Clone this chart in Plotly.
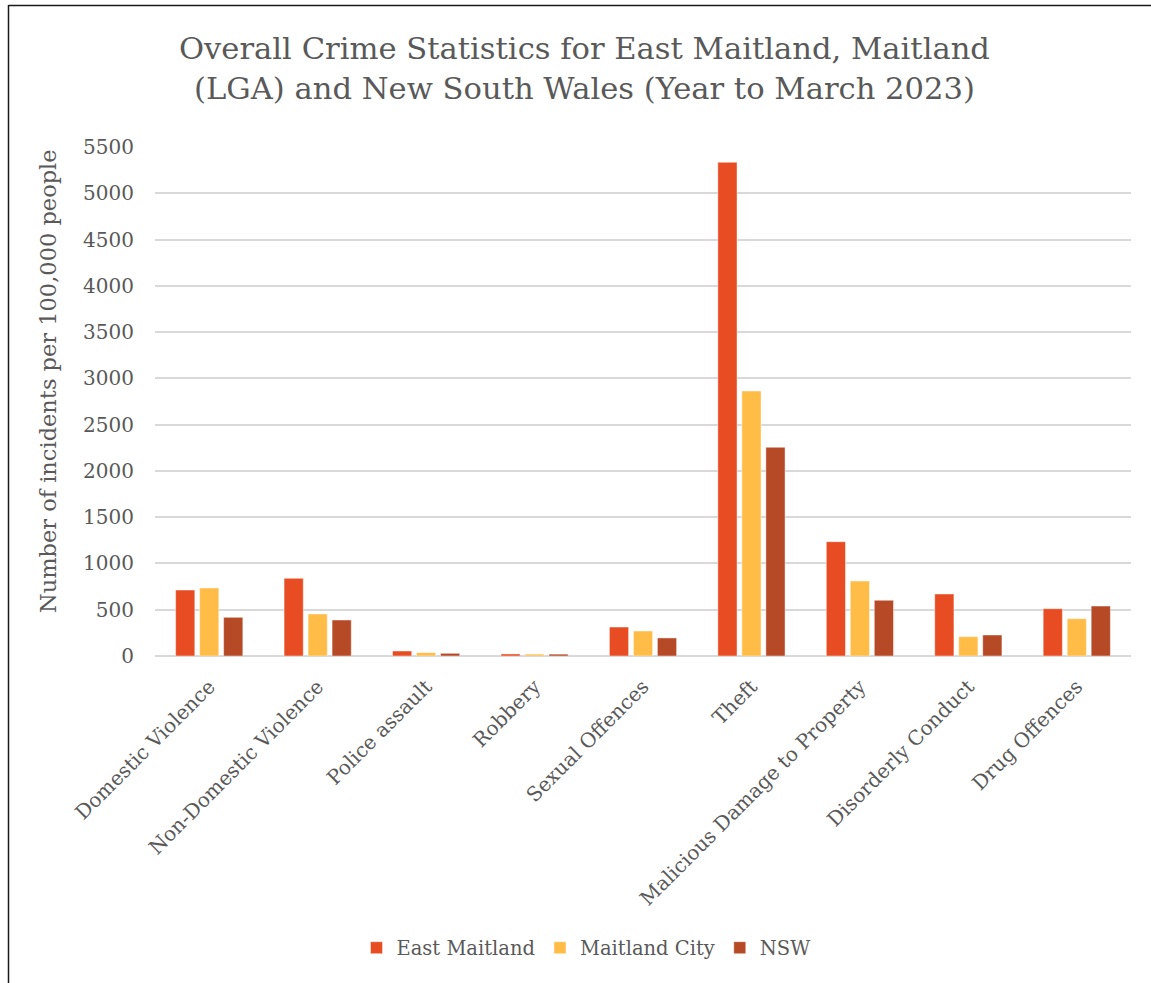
import plotly.graph_objects as go

categories = ["Domestic Violence", "Non-Domestic Violence", "Police assault", "Robbery",
              "Sexual Offences", "Theft", "Malicious Damage to Property",
              "Disorderly Conduct", "Drug Offences"]
east_maitland = [713, 839, 54, 22, 313, 5335, 1235, 670, 511]
maitland_city = [735, 454, 36, 20, 270, 2863, 810, 209, 403]
nsw = [418, 389, 29, 20, 195, 2255, 602, 227, 540]
y_ticks = list(range(0, 5501, 500))

series = [("East Maitland", east_maitland, "#E84C22"),
          ("Maitland City", maitland_city, "#FFBC47"),
          ("NSW", nsw, "#B64926")]

FONT = "DejaVu Serif"
GRAY = "#595959"

W, H = 1151, 983
L, R, T, B = 155, 20, 147, 327
pw = W - L - R
ph = H - T - B

fig = go.Figure()
for name, vals, col in series:
    fig.add_trace(go.Bar(name=name, x=categories, y=vals, marker_color=col,
                         marker_line=dict(color="rgba(255,255,255,0.45)", width=1)))

def px_x(p):
    return (p - L) / pw

def px_y(p):
    return (H - B - p) / ph

fig.update_layout(
    width=W, height=H,
    margin=dict(l=L, r=R, t=T, b=B, autoexpand=False),
    paper_bgcolor="white", plot_bgcolor="white",
    barmode="group", bargap=0.336, bargroupgap=0.2,
    font=dict(family=FONT, color=GRAY, size=20),
    xaxis=dict(tickangle=-45, showgrid=False, showline=False, ticks="",
               tickfont=dict(size=20, color=GRAY), ticklabelstandoff=14),
    yaxis=dict(range=[0, 5500], tickvals=y_ticks, showgrid=True, gridcolor="#D9D9D9",
               gridwidth=1.5, zeroline=True, zerolinecolor="#D9D9D9", zerolinewidth=1.5,
               ticks="", tickfont=dict(size=20, color=GRAY), ticklabelstandoff=20),
    legend=dict(orientation="h", x=px_x(586), xanchor="center", y=px_y(948), yanchor="middle",
                font=dict(size=19.5, color=GRAY), itemwidth=30, traceorder="normal"),
    showlegend=True,
    annotations=[
        dict(text="Overall Crime Statistics for East Maitland, Maitland<br>(LGA) and New South Wales (Year to March 2023)",
             x=px_x(584), y=px_y(29), xref="paper", yref="paper",
             xanchor="center", yanchor="top", showarrow=False,
             font=dict(family=FONT, size=30.6, color=GRAY)),
        dict(text="Number of incidents per 100,000 people", textangle=-90,
             x=px_x(48), y=px_y(381), xref="paper", yref="paper",
             xanchor="center", yanchor="middle", showarrow=False,
             font=dict(family=FONT, size=22.5, color=GRAY))],
    shapes=[dict(type="line", xref="paper", yref="paper", x0=px_x(8.5), x1=px_x(8.5),
                 y0=px_y(5), y1=px_y(990), line=dict(color="#1a1a1a", width=1.5)),
            dict(type="line", xref="paper", yref="paper", x0=px_x(8.5), x1=px_x(1160),
                 y0=px_y(5.5), y1=px_y(5.5), line=dict(color="#1a1a1a", width=1.5))],
)

fig.write_html("out.html", config={"displayModeBar": False},
               post_script="document.body.style.margin='0';document.body.style.overflow='hidden';")
